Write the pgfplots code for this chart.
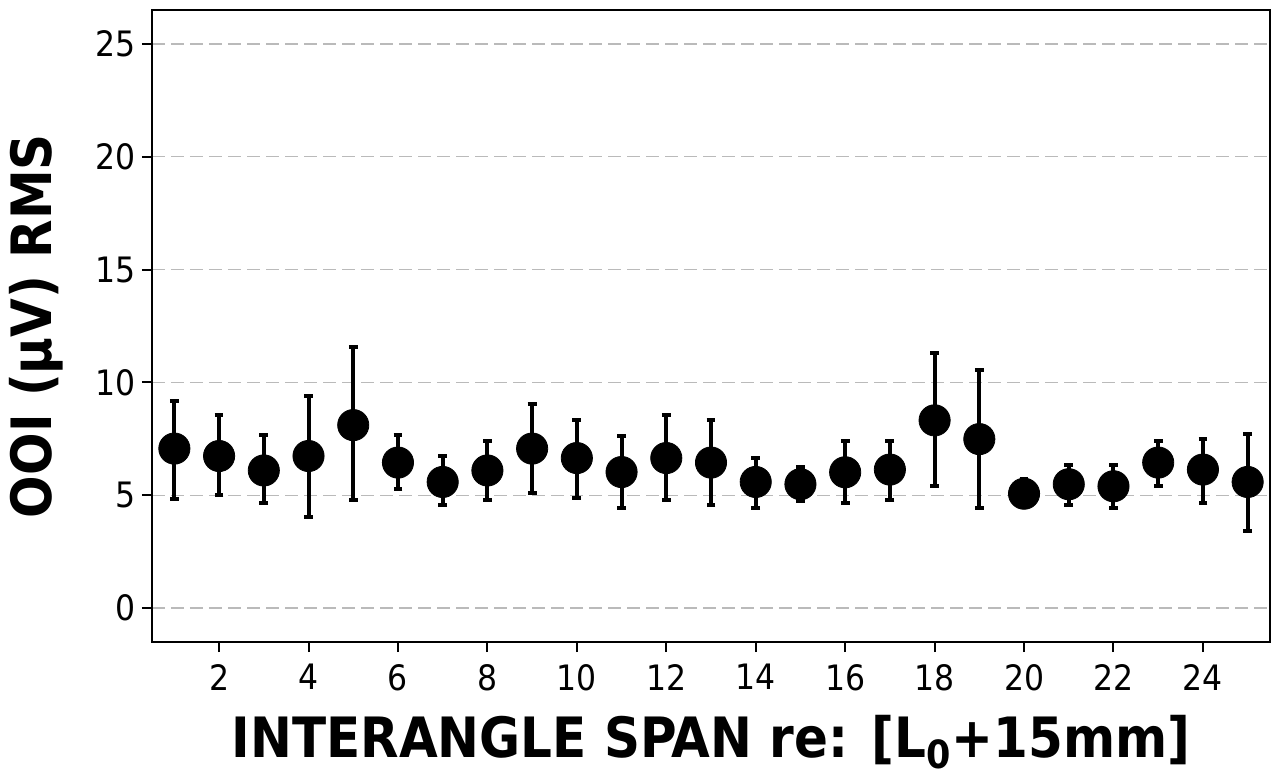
\documentclass[border=0pt]{standalone}
\usepackage{fontspec}
\setmainfont{DejaVu Sans Condensed}
\usepackage{pgfplots}
\pgfplotsset{compat=1.18}
\usepackage{pgfplotstable}
\pgfplotstableread{
x y ep em
1 7.07 2.10 2.22
2 6.74 1.80 1.74
3 6.10 1.58 1.44
4 6.74 2.67 2.70
5 8.11 3.45 3.33
6 6.45 1.23 1.15
7 5.59 1.15 1.02
8 6.10 1.30 1.32
9 7.07 1.99 1.97
10 6.65 1.67 1.77
11 6.03 1.58 1.59
12 6.65 1.89 1.87
13 6.45 1.87 1.86
14 5.59 1.06 1.15
15 5.49 0.76 0.74
16 6.02 1.37 1.36
17 6.14 1.25 1.36
18 8.32 2.98 2.92
19 7.49 3.04 3.04
20 5.07 0.67 0.57
21 5.49 0.84 0.93
22 5.40 0.93 0.96
23 6.45 0.94 1.05
24 6.14 1.35 1.48
25 5.59 2.11 2.18
}\datatable
\begin{document}
\begin{tikzpicture}
\begin{axis}[
  name=ax,
  scale only axis,
  width=559pt, height=316pt,
  xmin=0.5, xmax=25.5,
  ymin=-1.5, ymax=26.5,
  xtick={2,4,...,24},
  ytick={0,5,...,25},
  tick align=outside,
  xtick pos=bottom, ytick pos=left,
  major tick length=5pt,
  axis line style={line width=1.2pt},
  tick style={line width=1pt, black},
  ymajorgrids,
  major grid style={draw=black!27, line width=0.7pt, dash pattern=on 6.5pt off 3pt},
  /pgf/number format/assume math mode=true,
  ticklabel style={font=\fontsize{17.5}{20}\selectfont},
  xticklabel style={yshift=-2.5pt},
  yticklabel style={xshift=0.5pt},
  xlabel={INTERANGLE SPAN re: [L\textsubscript{0}+15mm]},
  ylabel={OOI (µV) RMS},
  every axis x label/.style={at={(rel axis cs:0.5,0)}, yshift=-57.5pt, anchor=base},
  every axis y label/.style={at={(rel axis cs:0,0.5)}, xshift=-50pt, rotate=90, anchor=base},
  label style={font=\fontsize{27.8}{32}\selectfont\bfseries},
]
\addplot[
  black, only marks, mark=*, mark size=7.8pt,
  error bars/.cd, y dir=both, y explicit,
  error bar style={line width=2pt, black},
  error mark options={line width=2pt, mark size=2.2pt, black, rotate=90},
] table[x=x, y=y, y error plus=ep, y error minus=em] {\datatable};
\end{axis}
\pgfresetboundingbox
\path ([xshift=-76pt,yshift=-68pt]ax.south west) rectangle ([xshift=4pt,yshift=5pt]ax.north east);
\end{tikzpicture}
\end{document}
